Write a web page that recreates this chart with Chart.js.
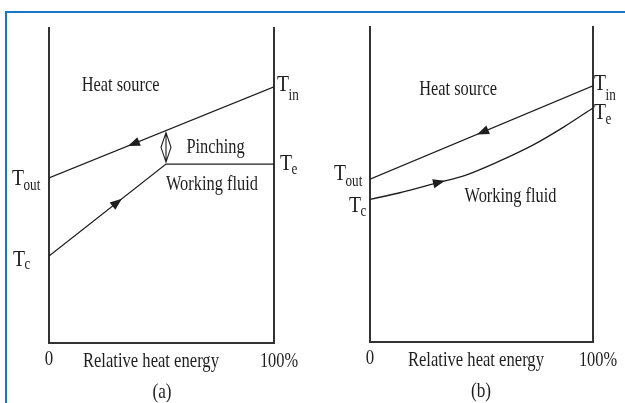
<!DOCTYPE html>
<html><head><meta charset="utf-8">
<script src="https://cdn.jsdelivr.net/npm/chart.js@4"></script>
<style>
html,body{margin:0;padding:0;background:#fff;width:625px;height:403px;overflow:hidden;}
#frame{position:absolute;left:5px;top:11px;width:700px;height:500px;border-top:2px solid #1a75c9;border-left:2px solid #1a75c9;}
#wa{position:absolute;left:0;top:0;width:320px;height:403px;}
#wb{position:absolute;left:320px;top:0;width:305px;height:403px;}
canvas{display:block;}
</style></head>
<body>
<div id="frame"></div>
<div id="wa"><canvas id="ca" width="320" height="403"></canvas></div>
<div id="wb"><canvas id="cb" width="305" height="403"></canvas></div>
<script>
// ---- data (x: relative heat energy %, y: temperature, arbitrary units) ----
const heatA_x  = [0, 100];
const heatA_y  = [52.4, 81.3];
const fluidA_x = [0, 52, 100];
const fluidA_y = [27.6, 56.8, 56.8];
const heatB_x  = [0, 100];
const heatB_y  = [51.7, 81.3];
const fluidB_x = [0, 13, 30, 43, 57, 73, 87, 100];
const fluidB_y = [45.3, 47.3, 50.5, 53.0, 57.1, 62.5, 68.3, 74.3];
const xTickLabels = ['0', '100%'];
const xAxisTitle = 'Relative heat energy';
const captions = ['(a)', '(b)'];
const sourceLabel = 'Heat source';
const fluidLabel = 'Working fluid';
const pinchLabel = 'Pinching';

const INK = '#1e1e1e', AXIS = '#333333';
const FONT = '"Liberation Serif", "Times New Roman", serif';

function pts(xs, ys){ return xs.map((x,i)=>({x, y: ys[i]})); }

function txt(ctx, s, x, y, size, align, sx){
  ctx.save();
  ctx.font = size + 'px ' + FONT;
  ctx.fillStyle = INK;
  ctx.textBaseline = 'alphabetic';
  ctx.textAlign = align;
  ctx.translate(x, y);
  ctx.scale(sx, 1);
  ctx.fillText(s, 0, 0);
  const w = ctx.measureText(s).width * sx;
  ctx.restore();
  return w;
}
function tLab(ctx, ax, ay, tdx, tdy, sub, sdy){
  const w = txt(ctx, 'T', ax + tdx, ay + tdy, 24, 'left', 0.82);
  txt(ctx, sub, ax + tdx + w - 0.5, ay + sdy, 16, 'left', 0.82);
}
function head(ctx, tx, ty, dx, dy){
  const n = Math.hypot(dx, dy); dx/=n; dy/=n;
  const len = 12, half = 4.6;
  ctx.save();
  ctx.fillStyle = INK;
  ctx.beginPath();
  ctx.moveTo(tx, ty);
  ctx.lineTo(tx - dx*len - dy*half, ty - dy*len + dx*half);
  ctx.lineTo(tx - dx*len + dy*half, ty - dy*len - dx*half);
  ctx.closePath();
  ctx.fill();
  ctx.restore();
}
// point on the drawn line of dataset i at x value v
function onLine(chart, i, v){
  const meta = chart.getDatasetMeta(i);
  const px = chart.scales.x.getPixelForValue(v);
  let p = meta.dataset.interpolate ? meta.dataset.interpolate({x: px}, 'x') : null;
  if (!p) {
    const d = chart.data.datasets[i].data;
    for (let k=0;k<d.length-1;k++){
      if (v>=d[k].x && v<=d[k+1].x){
        const t=(v-d[k].x)/(d[k+1].x-d[k].x);
        p={x:px,y:chart.scales.y.getPixelForValue(d[k].y+t*(d[k+1].y-d[k].y))}; break;
      }
    }
  }
  return p;
}
function arrowOn(chart, i, v, dirSign){
  const p = onLine(chart, i, v);
  const a = onLine(chart, i, v - 1.5), b = onLine(chart, i, v + 1.5);
  head(chart.ctx, p.x, p.y, dirSign*(b.x-a.x), dirSign*(b.y-a.y));
}
function bottomTexts(chart, titleX, capX, capIdx){
  const ctx = chart.ctx, xs = chart.scales.x, ys = chart.scales.y;
  const by = ys.getPixelForValue(0);
  txt(ctx, xTickLabels[0], xs.getPixelForValue(0), by + 22, 21, 'center', 0.8);
  txt(ctx, xTickLabels[1], xs.getPixelForValue(100) + 5, by + 23.5, 21, 'center', 0.78);
  txt(ctx, xAxisTitle, xs.getPixelForValue(titleX), by + 23.5, 21, 'center', 0.79);
  txt(ctx, captions[capIdx], xs.getPixelForValue(capX), by + 55, 21, 'center', 0.82);
}

const annA = { id:'annA', afterDraw(chart){
  const ctx = chart.ctx, xs = chart.scales.x, ys = chart.scales.y;
  const X = v=>xs.getPixelForValue(v), Y = v=>ys.getPixelForValue(v);
  txt(ctx, sourceLabel, X(31.8), Y(80.0), 21, 'center', 0.78);
  txt(ctx, pinchLabel, X(74.0), Y(60.2), 21, 'center', 0.78);
  txt(ctx, fluidLabel, X(72.4), Y(48.6), 21, 'center', 0.78);
  // T labels anchored at line ends
  tLab(ctx, X(100), Y(heatA_y[1]), 3, 4, 'in', 13);
  tLab(ctx, X(100), Y(fluidA_y[2]), 6, 6, 'e', 10);
  tLab(ctx, X(0), Y(heatA_y[0]), -37, 7, 'out', 12);
  tLab(ctx, X(0), Y(fluidA_y[0]), -36, 10, 'c', 13);
  // flow arrows
  arrowOn(chart, 0, 35.1, -1);
  arrowOn(chart, 1, 32.4, 1);
  // pinch double arrow
  const px = X(fluidA_x[1]);
  const top = onLine(chart, 0, fluidA_x[1]).y + 2, bot = Y(fluidA_y[1]) - 2;
  const mid = (top + bot)/2;
  ctx.save();
  ctx.strokeStyle = INK; ctx.lineWidth = 1.1;
  ctx.beginPath();
  ctx.moveTo(px, top); ctx.lineTo(px-5, mid); ctx.lineTo(px, bot); ctx.lineTo(px+5, mid); ctx.closePath();
  ctx.moveTo(px, top); ctx.lineTo(px, bot);
  ctx.stroke();
  ctx.restore();
  bottomTexts(chart, 45.3, 50.2, 0);
}};

const annB = { id:'annB', afterDraw(chart){
  const ctx = chart.ctx, xs = chart.scales.x, ys = chart.scales.y;
  const X = v=>xs.getPixelForValue(v), Y = v=>ys.getPixelForValue(v);
  txt(ctx, sourceLabel, X(39.5), Y(78.4), 21, 'center', 0.78);
  txt(ctx, fluidLabel, X(63.0), Y(44.5), 21, 'center', 0.78);
  tLab(ctx, X(100), Y(heatB_y[1]), 1, 4, 'in', 14);
  tLab(ctx, X(100), Y(fluidB_y[fluidB_y.length-1]), 1, 11, 'e', 16);
  tLab(ctx, X(0), Y(heatB_y[0]), -36, 1, 'out', 7);
  tLab(ctx, X(0), Y(fluidB_y[0]), -21, 13, 'c', 17);
  arrowOn(chart, 0, 48, -1);
  arrowOn(chart, 1, 33.6, 1);
  bottomTexts(chart, 47.5, 49.8, 1);
}};

function axis(pos){
  const o = { type:'linear', min:0, max:100, position:pos,
    ticks:{display:false}, grid:{display:false, drawTicks:false},
    border:{display:true, color:AXIS, width:2} };
  o.afterFit = (pos==='bottom') ? (s=>{s.height=0;}) : (s=>{s.width=0;});
  return o;
}
function ds(xs, ys, curved){
  return { data: pts(xs, ys), borderColor: INK, borderWidth: 1.3, pointRadius: 0,
    fill:false, tension: curved ? 0.4 : 0, cubicInterpolationMode: curved ? 'monotone' : 'default' };
}
function mk(id, padding, datasets, plugin){
  return new Chart(document.getElementById(id), {
    type:'line',
    data:{ datasets },
    options:{
      responsive:false, animation:false, devicePixelRatio:1, events:[],
      layout:{ padding, autoPadding:false },
      plugins:{ legend:{display:false}, tooltip:{enabled:false} },
      scales:{ x: axis('bottom'), y: axis('left'), y2: axis('right') }
    },
    plugins:[plugin]
  });
}
mk('ca', {left:49, right:46, top:28, bottom:60},
   [ds(heatA_x, heatA_y, false), ds(fluidA_x, fluidA_y, false)], annA);
mk('cb', {left:50, right:32, top:27, bottom:61},
   [ds(heatB_x, heatB_y, false), ds(fluidB_x, fluidB_y, true)], annB);
</script>
</body></html>
